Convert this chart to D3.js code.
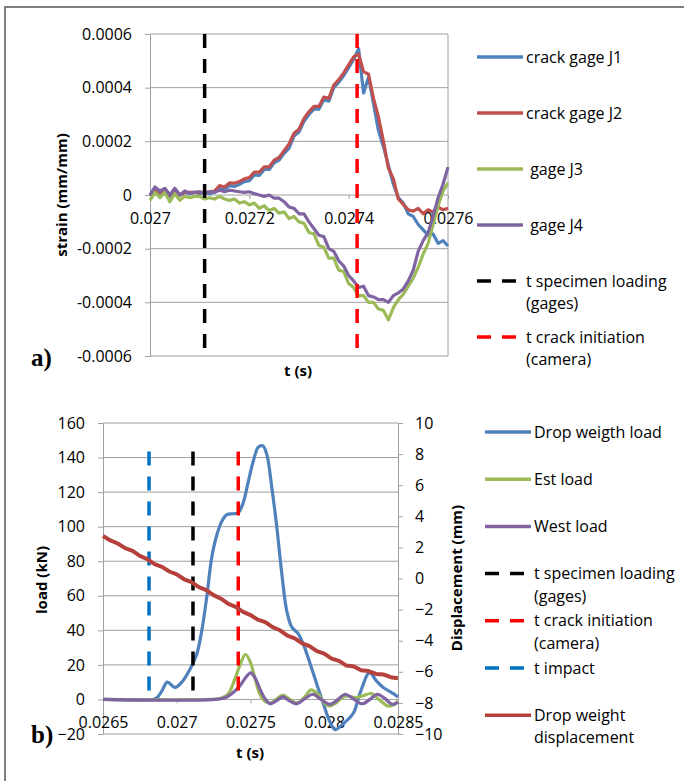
<!DOCTYPE html>
<html>
<head>
<meta charset="utf-8">
<script src="https://cdn.jsdelivr.net/npm/d3@7"></script>
<style>
  body { margin: 0; background: #fff; }
  svg text { font-family: 'Open Sans', sans-serif; fill: #000; }
</style>
</head>
<body>
<script>
// ---------- panel a) : strain gages ----------
// strain values are given in 1e-5 mm/mm, one sample every 0.00001 s starting at 0.027 s
const STRAIN_UNIT = 1e-5
const strainT0 = 0.027
const strainStep = 0.00001
const strainTicks = [-0.0006, -0.0004, -0.0002, 0, 0.0002, 0.0004, 0.0006]
const timeTicksA = [0.027, 0.0272, 0.0274, 0.0276]

const gageJ1 = [0, 2.5, 0.5, 2, -0.5, 1.5, 0, 1, 0.5, 1, 0.5, 1, 0.5, 1, 2.5, 2, 3.5, 3.2, 4, 5,
  5.3, 7.5, 7.3, 9.5, 9.5, 12, 13, 15.5, 17.5, 22, 23.5, 27.5, 30, 32, 32, 35.5, 35, 40, 42, 44.5,
  47.5, 50.5, 54.5, 38, 44, 34, 24, 18, 11, 4, -1, -3, -7, -8, -11, -13, -15, -14.5, -18, -17, -19]
const gageJ2 = [0, 2, 1, 2, 0, 2, 0, 1, 1, 1, 1, 1, 1.2, 1.5, 3.5, 3, 4.5, 4.4, 5, 6,
  6.5, 8.5, 8.5, 10.5, 10.5, 13, 14, 16.5, 19, 23, 24.5, 28.5, 31, 33, 33, 36.5, 36, 41, 43, 45.5,
  48.5, 51.5, 52.5, 46, 45, 36, 29, 20, 10, 6, -1.5, -3.5, -5.5, -6, -5, -7, -5.5, -6.5, -4.5, -5.5, -5]
const gageJ3 = [-2, 1, -1, 1, -2.5, 0.5, -2, -0.5, -1, -0.5, -0.5, -1.5, -1, -1.5, -0.5, -1.5, -2, -1.5, -3, -2.5,
  -3.7, -3, -5, -4, -5.8, -5, -6.8, -6.3, -8.8, -8, -10, -10.5, -14, -14.5, -18.8, -19.5, -23.5, -23.5, -28, -28.5,
  -33, -34.5, -37.5, -37.5, -40, -40, -42.5, -43, -46.5, -42, -39, -37, -34, -31, -27, -22, -18, -11, -4, 1.5, 4.5]
const gageJ4 = [0, 3, 1.5, 2.5, 0, 2.5, 0, 1.5, 0.6, 1, 1.2, 0.6, 1.2, 1, 1.8, 1.2, 1.8, 1.5, 1.2, 1,
  1.2, 0.5, 0, -0.5, 0, -1.2, -1.2, -2.5, -4.5, -5, -7, -7, -10, -12.5, -15, -15.5, -20, -21, -24.5, -26.5,
  -30, -32, -34.5, -34, -37.5, -38, -39, -39, -40, -37.5, -36.5, -35, -32, -28, -21, -17, -14, -8, -1, 4, 10.4]
const strainNames = ['crack gage J1', 'crack gage J2', ' gage J3', ' gage J4']
const strainColors = ['#4f81bd', '#c0504d', '#9bbb59', '#8064a2']

// event times (s) shared by both panels
const tImpact = 0.026812
const tLoading = 0.02711
const tCrack = 0.027417

// ---------- panel b) : loads and displacement ----------
const loadTicks = [-20, 0, 20, 40, 60, 80, 100, 120, 140, 160]
const dispTicks = [-10, -8, -6, -4, -2, 0, 2, 4, 6, 8, 10]
const timeTicksB = [0.0265, 0.027, 0.0275, 0.028, 0.0285]

const dropLoadT = [0.0265, 0.026839, 0.026866, 0.0269, 0.026936, 0.026988, 0.027034, 0.02709, 0.027135, 0.027169,
  0.027203, 0.027237, 0.027271, 0.027305, 0.027339, 0.027383, 0.027417, 0.027451, 0.027485, 0.027519,
  0.027553, 0.027583, 0.02761, 0.027644, 0.027678, 0.027712, 0.027745, 0.027779, 0.027824, 0.027858,
  0.027903, 0.027949, 0.027994, 0.028039, 0.028073, 0.028129, 0.028197, 0.028242, 0.028307, 0.028351,
  0.028398, 0.028446, 0.0285]
const dropLoad = [0, 0, 1, 5, 10, 7, 10, 17.5, 26, 39.5,
  59, 82, 95, 103, 107, 107.5, 108, 114, 126, 138,
  146, 146.8, 142, 123, 100, 73, 51.6, 42, 38, 32,
  21, 9, -2.5, -13, -17.5, -14, -8, 3.5, 15.5, 11,
  7, 4.5, 1.5]

const estLoadT = [0.0265, 0.027225, 0.027293, 0.027347, 0.027395, 0.027429, 0.027466, 0.027497, 0.027531, 0.027564,
  0.027598, 0.027639, 0.02768, 0.02772, 0.027767, 0.027815, 0.027863, 0.02791, 0.027958, 0.027998,
  0.028032, 0.02808, 0.02812, 0.028161, 0.028208, 0.028256, 0.02832, 0.028371, 0.028432, 0.028473, 0.0285]
const estLoad = [0, 0, 0.5, 3, 12, 20, 26, 22, 12, 3,
  -1, -2, 0.5, 2.5, 0, -2, 1, 5.5, 3, -2,
  -3.8, -2, 1, 2, 1, 2, 3.4, 0, -3.8, -3, -1]

const westLoadT = [0.0265, 0.027259, 0.027327, 0.027375, 0.027429, 0.02747, 0.027501, 0.027531, 0.027564, 0.027598,
  0.027632, 0.02768, 0.02772, 0.027768, 0.027815, 0.027869, 0.027924, 0.027978, 0.028039, 0.028093,
  0.028141, 0.028195, 0.028256, 0.02831, 0.028358, 0.028412, 0.028459, 0.0285]
const westLoad = [0, 0, 1, 3.5, 8, 13, 15.4, 12.5, 6, 0.5,
  -2.5, -0.5, 1.5, -1, -2.5, 0.5, 3, 0, -2.8, 0,
  3, 0.5, -2.5, 0, 3, 0.5, -2.8, -1.5]

// drop weight displacement (mm), one sample every 0.00005 s from 0.0265 s
const dispT0 = 0.0265
const dispStep = 0.00005
const dropDisp = [2.73, 2.45, 2.25, 1.95, 1.78, 1.45, 1.25, 0.93, 0.75, 0.45,
  0.27, -0.05, -0.23, -0.55, -0.75, -1.07, -1.3, -1.63, -1.83, -2.15,
  -2.35, -2.65, -2.8, -3.13, -3.33, -3.67, -3.85, -4.17, -4.35, -4.67,
  -4.83, -5.15, -5.3, -5.6, -5.66, -5.9, -5.95, -6.14, -6.17, -6.35, -6.42]

const loadNames = ['Drop weigth load', 'Est load', 'West load']
const loadColors = ['#4f81bd', '#9bbb59', '#8064a2']
const dispColor = '#b5403c'
const eventLoadRange = [-1, 143.5]

const GRID = '#a0a0a0'

const svg = d3.select('body').append('svg')
  .attr('width', 684)
  .attr('height', 781)

/**
 * Draws the outer frame of the figure (only top and left edges are visible).
 */
function drawFrame () {
  svg.append('path')
    .attr('d', 'M5,781 V7 H684')
    .attr('fill', 'none')
    .attr('stroke', '#7f7f7f')
    .attr('stroke-width', 2)
}

/**
 * Draws horizontal gridlines.
 *
 * @param {*} g The group to draw into
 * @param {Array} values The tick values
 * @param {*} yScale The y scale
 * @param {Array} xRange The left and right pixel positions
 */
function drawGrid (g, values, yScale, xRange) {
  g.append('g')
    .selectAll('line')
    .data(values)
    .enter()
    .append('line')
    .attr('x1', xRange[0])
    .attr('x2', xRange[1])
    .attr('y1', (d) => yScale(d))
    .attr('y2', (d) => yScale(d))
    .attr('stroke', GRID)
    .attr('stroke-width', 1)
}

/**
 * Styles an axis created with d3.axis*.
 *
 * @param {*} sel The selection of the axis group
 */
function styleAxis (sel) {
  sel.select('.domain').attr('stroke', GRID)
  sel.selectAll('.tick line').attr('stroke', GRID)
  sel.selectAll('.tick text')
    .style('font-family', "'Open Sans', sans-serif")
    .style('font-size', '16px')
    .attr('fill', '#000')
}

/**
 * Draws a vertical dashed event line.
 *
 * @param {*} g The group
 * @param {number} t The time of the event
 * @param {*} xScale The x scale
 * @param {Array} yPix The two pixel y ends
 * @param {string} color The colour
 */
function drawEvent (g, t, xScale, yPix, color) {
  g.append('line')
    .attr('x1', xScale(t))
    .attr('x2', xScale(t))
    .attr('y1', yPix[0])
    .attr('y2', yPix[1])
    .attr('stroke', color)
    .attr('stroke-width', 3.5)
    .attr('stroke-dasharray', '14 11')
}

/**
 * Draws a legend at the given place.
 *
 * @param {Array} items The items {name, color, dashed}
 * @param {number} x0 Left of the swatch
 * @param {number} y0 Centre of the first item
 * @param {number} dy Distance between items
 */
function drawLegend (items, x0, y0, dy) {
  const g = svg.append('g')
  items.forEach((item, i) => {
    const y = y0 + i * dy
    g.append('line')
      .attr('x1', x0)
      .attr('x2', item.dashed ? x0 + 39 : x0 + 46)
      .attr('y1', y)
      .attr('y2', y)
      .attr('stroke', item.color)
      .attr('stroke-width', 3.5)
      .attr('stroke-dasharray', item.dashed ? '14 11' : null)
    const text = g.append('text')
      .attr('x', x0 + 49)
      .attr('y', y)
      .style('font-size', '16px')
      .style('white-space', 'pre')
    item.name.split('\n').forEach((line, j) => {
      text.append('tspan')
        .attr('x', x0 + 49)
        .attr('dy', j === 0 ? '0.35em' : '1.4em')
        .text(line)
    })
  })
}

/**
 * Draws panel a) with the strain gage signals.
 */
function drawStrainPanel () {
  const x = d3.scaleLinear().domain([0.027, 0.0276]).range([150, 448])
  const y = d3.scaleLinear().domain([-0.0006, 0.0006]).range([356, 34])
  const g = svg.append('g')

  drawGrid(g, strainTicks, y, [150, 448])
  g.append('line')
    .attr('x1', 448).attr('x2', 448).attr('y1', 34).attr('y2', 356)
    .attr('stroke', GRID)

  g.append('g')
    .attr('transform', 'translate(150,0)')
    .call(d3.axisLeft(y).tickValues(strainTicks).tickSize(5).tickSizeOuter(0).tickPadding(13).tickFormat((d) => String(d)))
    .call(styleAxis)

  g.append('g')
    .attr('transform', `translate(0,${y(0)})`)
    .call(d3.axisBottom(x).tickValues(timeTicksA).tickSize(4).tickPadding(14).tickFormat((d) => String(d)))
    .call(styleAxis)
    .call((s) => s.select('.domain').remove())

  const line = d3.line()
    .x((d, i) => x(strainT0 + i * strainStep))
    .y((d) => y(d * STRAIN_UNIT))

  const series = [gageJ1, gageJ2, gageJ3, gageJ4]
  series.forEach((s, k) => {
    g.append('path')
      .datum(s)
      .attr('d', line)
      .attr('fill', 'none')
      .attr('stroke', strainColors[k])
      .attr('stroke-width', 3.2)
      .attr('stroke-linejoin', 'round')
  })

  drawEvent(g, tLoading, x, [y(0.0006), y(-0.0006)], '#000')
  drawEvent(g, tCrack, x, [y(0.0006), y(-0.0006)], '#ff0000')

  svg.append('text')
    .attr('transform', 'translate(67,195) rotate(-90)')
    .attr('text-anchor', 'middle')
    .style('font-size', '15px')
    .style('font-weight', 'bold')
    .text('strain (mm/mm)')
  svg.append('text')
    .attr('x', 298)
    .attr('y', 376)
    .attr('text-anchor', 'middle')
    .style('font-size', '15px')
    .style('font-weight', 'bold')
    .text('t (s)')
  svg.append('text')
    .attr('x', 31)
    .attr('y', 366)
    .style('font-family', "'Liberation Serif', serif")
    .style('font-size', '25px')
    .style('font-weight', 'bold')
    .text('a)')
}

/**
 * Draws panel b) with the loads and the drop weight displacement.
 */
function drawLoadPanel () {
  const x = d3.scaleLinear().domain([0.0265, 0.0285]).range([103, 398])
  const y = d3.scaleLinear().domain([-20, 160]).range([734, 423])
  const yd = d3.scaleLinear().domain([-10, 10]).range([734, 423])
  const g = svg.append('g')

  drawGrid(g, loadTicks, y, [103, 398])

  g.append('g')
    .attr('transform', 'translate(103,0)')
    .call(d3.axisLeft(y).tickValues(loadTicks).tickSize(5).tickSizeOuter(0).tickPadding(13))
    .call(styleAxis)

  g.append('g')
    .attr('transform', 'translate(398,0)')
    .call(d3.axisRight(yd).tickValues(dispTicks).tickSize(5).tickSizeOuter(0).tickPadding(12))
    .call(styleAxis)

  g.append('g')
    .attr('transform', `translate(0,${y(0)})`)
    .call(d3.axisBottom(x).tickValues(timeTicksB).tickSize(4).tickPadding(13).tickFormat((d) => String(d)))
    .call(styleAxis)
    .call((s) => s.select('.domain').remove())

  const loads = [[dropLoadT, dropLoad], [estLoadT, estLoad], [westLoadT, westLoad]]
  loads.forEach(([ts, vs], k) => {
    const line = d3.line()
      .x((d, i) => x(ts[i]))
      .y((d) => y(d))
      .curve(d3.curveCatmullRom.alpha(0.5))
    g.append('path')
      .datum(vs)
      .attr('d', line)
      .attr('fill', 'none')
      .attr('stroke', loadColors[k])
      .attr('stroke-width', 3.2)
  })

  const ev = [y(eventLoadRange[1]), y(eventLoadRange[0])]
  drawEvent(g, tImpact, x, ev, '#0070c0')
  drawEvent(g, tLoading, x, ev, '#000')
  drawEvent(g, tCrack, x, ev, '#ff0000')

  const dline = d3.line()
    .x((d, i) => x(dispT0 + i * dispStep))
    .y((d) => yd(d))
  g.append('path')
    .datum(dropDisp)
    .attr('d', dline)
    .attr('fill', 'none')
    .attr('stroke', dispColor)
    .attr('stroke-width', 4)
    .attr('stroke-linejoin', 'round')

  svg.append('text')
    .attr('transform', 'translate(47,580) rotate(-90)')
    .attr('text-anchor', 'middle')
    .style('font-size', '15px')
    .style('font-weight', 'bold')
    .text('load (kN)')
  svg.append('text')
    .attr('transform', 'translate(462,578) rotate(-90)')
    .attr('text-anchor', 'middle')
    .style('font-size', '15px')
    .style('font-weight', 'bold')
    .text('Displacement (mm)')
  svg.append('text')
    .attr('x', 250)
    .attr('y', 758)
    .attr('text-anchor', 'middle')
    .style('font-size', '15px')
    .style('font-weight', 'bold')
    .text('t (s)')
  svg.append('text')
    .attr('x', 31)
    .attr('y', 743)
    .style('font-family', "'Liberation Serif', serif")
    .style('font-size', '25px')
    .style('font-weight', 'bold')
    .text('b)')
}

drawFrame()
drawStrainPanel()
drawLoadPanel()

drawLegend([
  { name: strainNames[0], color: strainColors[0] },
  { name: strainNames[1], color: strainColors[1] },
  { name: strainNames[2], color: strainColors[2] },
  { name: strainNames[3], color: strainColors[3] },
  { name: 't specimen loading\n(gages)', color: '#000', dashed: true },
  { name: 't crack initiation\n(camera)', color: '#ff0000', dashed: true }
], 477, 57, 56)

drawLegend([
  { name: loadNames[0], color: loadColors[0] },
  { name: loadNames[1], color: loadColors[1] },
  { name: loadNames[2], color: loadColors[2] },
  { name: 't specimen loading\n(gages)', color: '#000', dashed: true },
  { name: 't crack initiation\n(camera)', color: '#ff0000', dashed: true },
  { name: 't impact', color: '#0070c0', dashed: true },
  { name: 'Drop weight\ndisplacement', color: dispColor }
], 485, 432, 47.2)
</script>
</body>
</html>
